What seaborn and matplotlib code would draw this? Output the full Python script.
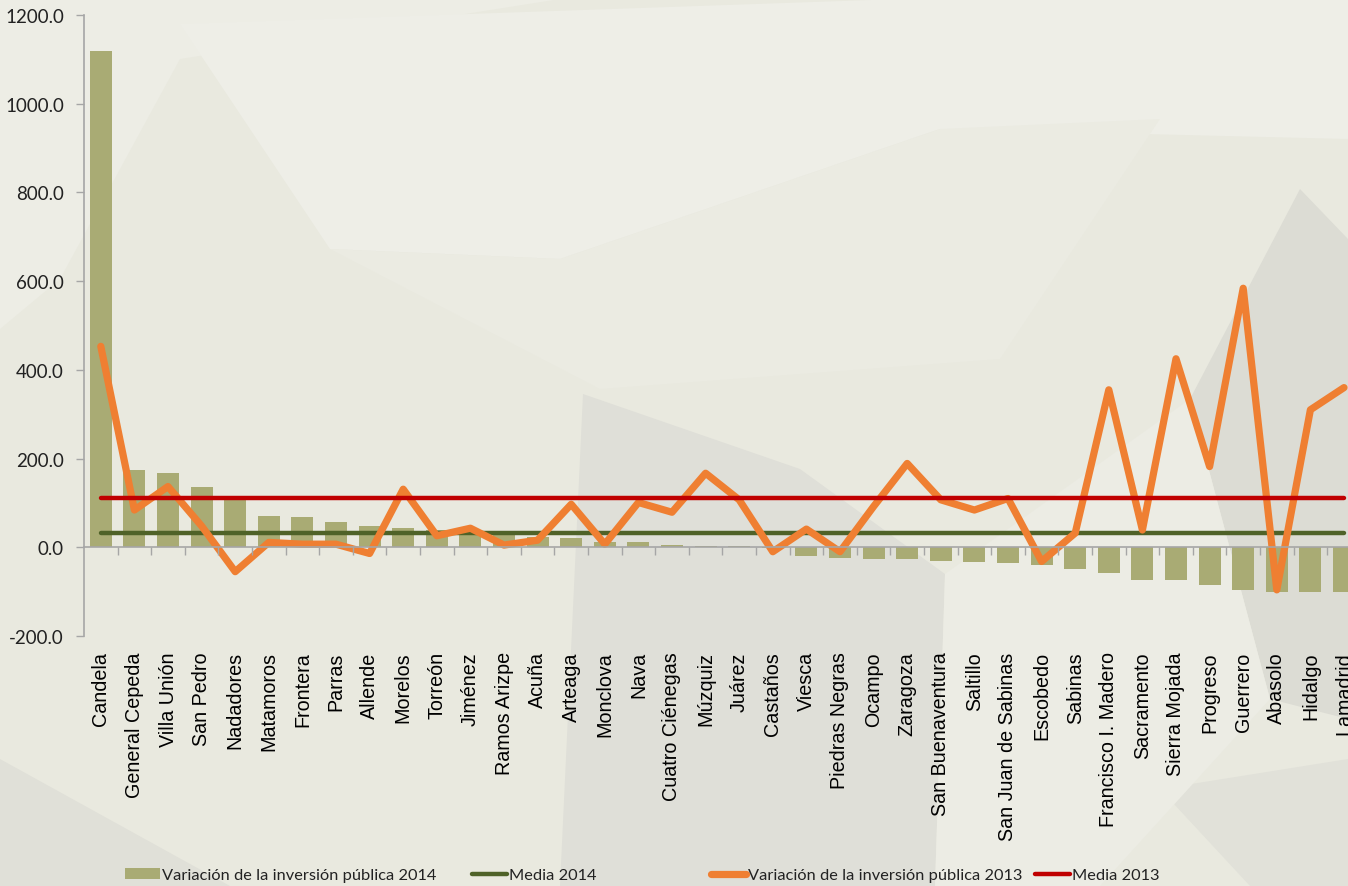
import numpy as np
import pandas as pd
import matplotlib
matplotlib.use("Agg")
import matplotlib.pyplot as plt
from matplotlib.patches import Polygon, Patch
from matplotlib.lines import Line2D
import seaborn as sns

municipios = ["Candela", "General Cepeda", "Villa Unión", "San Pedro", "Nadadores",
              "Matamoros", "Frontera", "Parras", "Allende", "Morelos", "Torreón",
              "Jiménez", "Ramos Arizpe", "Acuña", "Arteaga", "Monclova", "Nava",
              "Cuatro Ciénegas", "Múzquiz", "Juárez", "Castaños", "Viesca",
              "Piedras Negras", "Ocampo", "Zaragoza", "San Buenaventura", "Saltillo",
              "San Juan de Sabinas", "Escobedo", "Sabinas", "Francisco I. Madero",
              "Sacramento", "Sierra Mojada", "Progreso", "Guerrero", "Abasolo",
              "Hidalgo", "Lamadrid"]

var_2014 = [1118, 174, 168, 137, 116, 71, 68, 58, 47, 43, 38, 35, 28, 24, 20, 13,
            11, 5, 4, 2, -1, -19, -24, -26, -26, -31, -33, -35, -40, -50, -57,
            -74, -74, -86, -96, -101, -101, -101]

var_2013 = [453, 84, 137, 48, -55, 11, 7, 7, -14, 131, 26, 43, 5, 16, 97, 7, 101,
            79, 167, 107, -10, 41, -10, 92, 189, 107, 84, 110, -32, 32, 355, 39,
            425, 182, 584, -96, 310, 360]

media_2014 = 32.0
media_2013 = 110.0

labels = ["Variación de la inversión pública 2014", "Media 2014",
          "Variación de la inversión pública 2013", "Media 2013"]

c_bar = "#A9AB74"
c_m14 = "#4F6228"
c_v13 = "#EF7F32"
c_m13 = "#C00000"
c_axis = "#A6A6A6"

W, H = 1348, 887
fig = plt.figure(figsize=(W / 100, H / 100), dpi=100)
fig.patch.set_facecolor("#E9E9DF")

# subtle textured background (behind everything)
def bgpoly(pts, color):
    xy = [(x / W, 1 - y / H) for x, y in pts]
    fig.patches.append(Polygon(xy, closed=True, transform=fig.transFigure,
                               facecolor=color, edgecolor="none", zorder=-10))

bgpoly([(0, 0), (560, 0), (180, 60), (60, 280), (0, 330)], "#EDEDE5")
bgpoly([(180, 25), (900, 0), (1348, 0), (1348, 140), (940, 130), (560, 260), (330, 250)], "#EEEEE7")
bgpoly([(330, 250), (560, 260), (940, 130), (1160, 120), (1000, 360), (600, 390)], "#EBEBE2")
bgpoly([(583, 395), (800, 470), (945, 575), (935, 887), (560, 887)], "#DFDFD8")
bgpoly([(1190, 400), (1300, 190), (1348, 240), (1348, 720), (1270, 700)], "#DCDCD4")
bgpoly([(0, 760), (0, 887), (230, 887)], "#E0E0D8")
bgpoly([(1160, 790), (1348, 760), (1348, 887), (1250, 887)], "#E1E1D9")
bgpoly([(945, 575), (1190, 400), (1270, 700), (1100, 887), (935, 887)], "#ECECE4")

sns.set_style("white")
plt.rcParams["font.family"] = ["Lato", "DejaVu Sans"]

ax = fig.add_axes([84 / W, 250 / H, 1276.8 / W, 621 / H])
ax.patch.set_alpha(0)
ax.set_zorder(1)

n = len(municipios)
idx = np.arange(n)
df = pd.DataFrame({"Municipio": municipios, "v2014": var_2014, "v2013": var_2013, "i": idx})

sns.barplot(data=df, x="Municipio", y="v2014", color=c_bar, saturation=1,
            width=0.66, ax=ax, zorder=2, linewidth=0, edgecolor="none")
sns.lineplot(x=idx, y=np.full(n, media_2014), color=c_m14, lw=3.2, ax=ax, zorder=3)
sns.lineplot(data=df, x="i", y="v2013", color=c_v13, lw=5.2, ax=ax, zorder=4,
             solid_joinstyle="round", solid_capstyle="round")
sns.lineplot(x=idx, y=np.full(n, media_2013), color=c_m13, lw=3.2, ax=ax, zorder=5)

ax.set_xlim(-0.5, n - 0.5)
ax.set_ylim(-200, 1200)
ax.set_yticks(np.arange(-200, 1201, 200))
ax.set_yticklabels([f"{v:.1f}" for v in np.arange(-200, 1201, 200)])
ax.set_xticks(idx)
ax.set_xticklabels(municipios, rotation=90, va="top", ha="center",
                   family=["Liberation Sans", "DejaVu Sans"], fontsize=14.2)
ax.set_xlabel("")
ax.set_ylabel("")
ax.tick_params(axis="x", length=0, pad=11, colors="black")
ax.tick_params(axis="y", length=6, width=1, color=c_axis, pad=8.5, labelsize=13.5,
               labelcolor="#222222", direction="out", left=True)
for s in ["top", "right", "bottom"]:
    ax.spines[s].set_visible(False)
ax.spines["left"].set_color(c_axis)
ax.spines["left"].set_linewidth(1.2)
if ax.get_legend():
    ax.get_legend().remove()

# horizontal category axis crossing at zero
axz = ax.twiny()
axz.set_xlim(ax.get_xlim())
axz.patch.set_alpha(0)
axz.xaxis.set_ticks_position("bottom")
axz.spines["bottom"].set_position(("data", 0))
axz.spines["bottom"].set_color(c_axis)
axz.spines["bottom"].set_linewidth(1.2)
for s in ["top", "right", "left"]:
    axz.spines[s].set_visible(False)
axz.set_xticks(idx[:-1] + 0.5)
axz.tick_params(axis="x", length=6, width=1, color=c_axis, direction="out",
                labelbottom=False, labeltop=False, top=False)

handles = [Patch(facecolor=c_bar, edgecolor="none"),
           Line2D([], [], color=c_m14, lw=3.2),
           Line2D([], [], color=c_v13, lw=5.2, solid_capstyle="round"),
           Line2D([], [], color=c_m13, lw=3.2)]
legend_x = [125, 472, 711, 1035]
for h, lab, lx in zip(handles, labels, legend_x):
    lg = fig.legend([h], [lab], loc="center left", bbox_to_anchor=(lx / W, 1 - 876 / H),
                    frameon=False, fontsize=11.8, handlelength=2.15, handletextpad=0.12,
                    borderpad=0, borderaxespad=0, labelcolor="#222222")

fig.savefig("out.png", dpi=100, facecolor=fig.get_facecolor())
